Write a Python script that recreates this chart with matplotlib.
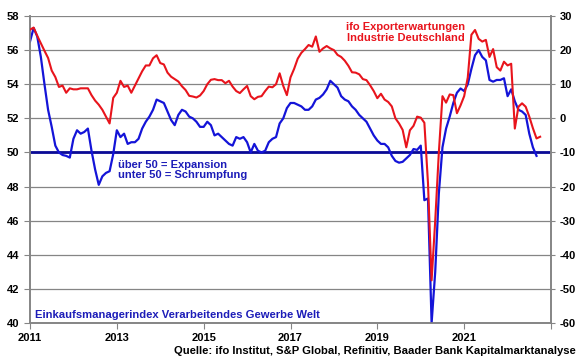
import matplotlib.pyplot as plt
import numpy as np

# Einkaufsmanagerindex Verarbeitendes Gewerbe Welt (linke Achse), monatlich ab Jan 2011
pmi_2011 = [56.5, 57.3, 56.8, 55.6, 54.0, 52.5, 51.5, 50.4, 50.0, 49.85, 49.8, 49.7]
pmi_2012 = [50.8, 51.3, 51.1, 51.2, 51.4, 50.1, 49.0, 48.1, 48.6, 48.8, 48.9, 49.9]
pmi_2013 = [51.3, 50.9, 51.1, 50.5, 50.6, 50.6, 50.8, 51.4, 51.8, 52.1, 52.5, 53.1]
pmi_2014 = [53.0, 52.9, 52.4, 51.9, 51.6, 52.2, 52.5, 52.4, 52.1, 52.0, 51.8, 51.5]
pmi_2015 = [51.5, 51.8, 51.6, 51.0, 51.1, 50.9, 50.7, 50.5, 50.4, 50.9, 50.8, 50.9]
pmi_2016 = [50.6, 50.0, 50.5, 50.1, 50.0, 50.1, 50.6, 50.8, 50.9, 51.7, 52.0, 52.6]
pmi_2017 = [52.9, 52.9, 52.8, 52.7, 52.5, 52.5, 52.7, 53.1, 53.2, 53.4, 53.7, 54.2]
pmi_2018 = [54.0, 53.8, 53.3, 53.1, 53.0, 52.7, 52.5, 52.2, 52.0, 51.8, 51.4, 51.0]
pmi_2019 = [50.7, 50.5, 50.5, 50.3, 49.8, 49.5, 49.4, 49.45, 49.65, 49.85, 50.2, 50.15]
pmi_2020 = [50.4, 47.2, 47.3, 40.0, 43.0, 47.6, 50.3, 51.4, 52.1, 52.9, 53.5, 53.75]
pmi_2021 = [53.6, 54.0, 54.9, 55.7, 56.0, 55.6, 55.4, 54.25, 54.15, 54.25, 54.25, 54.35]
pmi_2022 = [53.3, 53.7, 53.0, 52.5, 52.4, 52.2, 51.1, 50.3, 49.8]

# ifo Exporterwartungen Industrie Deutschland (rechte Achse)
ifo_2011 = [26.0, 26.6, 24.2, 22.0, 19.8, 17.7, 14.0, 12.1, 9.2, 9.6, 7.5, 8.8]
ifo_2012 = [8.5, 8.5, 8.8, 8.8, 8.8, 6.8, 5.2, 4.0, 2.5, 0.5, -1.5, 6.0]
ifo_2013 = [7.5, 11.0, 9.2, 9.6, 7.5, 9.6, 11.7, 13.8, 15.5, 15.5, 17.6, 18.5]
ifo_2014 = [16.2, 15.8, 13.4, 12.2, 11.5, 10.8, 9.4, 8.3, 6.6, 6.4, 6.1, 6.7]
ifo_2015 = [8.0, 10.0, 11.3, 11.5, 11.2, 11.2, 10.3, 11.0, 9.3, 8.0, 7.4, 8.5]
ifo_2016 = [9.5, 6.5, 5.6, 6.3, 6.5, 8.0, 9.3, 9.1, 10.0, 13.2, 9.5, 6.8]
ifo_2017 = [12.0, 14.5, 17.5, 19.2, 20.3, 21.5, 21.0, 24.0, 19.5, 20.5, 21.2, 20.5]
ifo_2018 = [20.0, 18.6, 18.0, 16.9, 15.4, 13.5, 13.4, 12.9, 11.5, 11.2, 9.7, 8.0]
ifo_2019 = [5.9, 7.2, 5.5, 4.8, 3.5, 0.0, -1.5, -3.4, -8.5, -3.5, -2.2, 0.5]
ifo_2020 = [0.2, -1.3, -19.0, -47.5, -30.0, -10.0, 6.5, 4.6, 7.0, 6.8, 1.5, 3.8]
ifo_2021 = [6.5, 12.0, 24.5, 25.9, 23.3, 22.5, 23.0, 18.0, 20.3, 15.0, 14.0, 16.6]
ifo_2022 = [15.5, 16.0, -3.0, 3.4, 4.4, 3.4, 0.5, -2.9, -5.9, -5.4]

year_ticks = [2011, 2013, 2015, 2017, 2019, 2021, 2023]
year_labels = ['2011', '2013', '2015', '2017', '2019', '2021', '']

pmi = pmi_2011 + pmi_2012 + pmi_2013 + pmi_2014 + pmi_2015 + pmi_2016 + \
    pmi_2017 + pmi_2018 + pmi_2019 + pmi_2020 + pmi_2021 + pmi_2022
ifo = ifo_2011 + ifo_2012 + ifo_2013 + ifo_2014 + ifo_2015 + ifo_2016 + \
    ifo_2017 + ifo_2018 + ifo_2019 + ifo_2020 + ifo_2021 + ifo_2022

x_pmi = 2011 + np.arange(len(pmi)) / 12.0
x_ifo = 2011 + np.arange(len(ifo)) / 12.0

plt.rcParams['font.family'] = ['Liberation Sans', 'DejaVu Sans']
plt.rcParams['font.weight'] = 'bold'
plt.rcParams['axes.unicode_minus'] = False

red = '#e8141c'
blue = '#1414d8'
grey = '#858585'

W, H = 580.0, 359.0
fig = plt.figure(figsize=(5.8, 3.59), dpi=100)
ax = fig.add_axes([30 / W, 1 - 323 / H, 521 / W, 307 / H])
ax2 = ax.twinx()

ax.set_xlim(2011, 2023)
ax.set_ylim(40, 58)
ax2.set_ylim(-60, 30)

ax.set_yticks(np.arange(40, 59, 2))
ax2.set_yticks(np.arange(-60, 31, 10))
ax.set_xticks(year_ticks)
ax.set_xticklabels(year_labels)

ax.grid(True, axis='y', color=grey, lw=0.9)
ax.set_axisbelow(True)
ax.axhline(50, color='#0a0a96', lw=2.0, zorder=2)

ax.plot(x_pmi, pmi, color=blue, lw=1.6, zorder=3)
ax2.plot(x_ifo, ifo, color=red, lw=1.5, zorder=3)

for a in (ax, ax2):
    for s in ('left', 'right', 'bottom'):
        a.spines[s].set_color(grey)
        a.spines[s].set_linewidth(1.2)
    a.spines['top'].set_visible(False)

ax.tick_params(axis='y', direction='out', length=4, color=grey, pad=4, labelsize=8)
ax.tick_params(axis='x', direction='out', length=4, color=grey, pad=3, labelsize=8)
ax2.tick_params(axis='y', direction='out', length=3, color=grey, pad=3, labelsize=8)

fig.text(405.5 / W, 1 - 32.5 / H, 'ifo Exporterwartungen\nIndustrie Deutschland',
         ha='center', va='center', color=red, fontsize=8, fontweight='bold',
         linespacing=1.15)
fig.text(118 / W, 1 - 170 / H, 'über 50 = Expansion\nunter 50 = Schrumpfung',
         ha='left', va='center', color='#1c1cb8', fontsize=8, fontweight='bold',
         linespacing=1.1)
fig.text(35 / W, 1 - 315 / H, 'Einkaufsmanagerindex Verarbeitendes Gewerbe Welt',
         ha='left', va='center', color='#1c1cb8', fontsize=8.1, fontweight='bold')
fig.text(576 / W, 1 - 351.5 / H,
         'Quelle: ifo Institut, S&P Global, Refinitiv, Baader Bank Kapitalmarktanalyse',
         ha='right', va='center', color='black', fontsize=8.1, fontweight='bold')

fig.savefig('out.png', dpi=100)
